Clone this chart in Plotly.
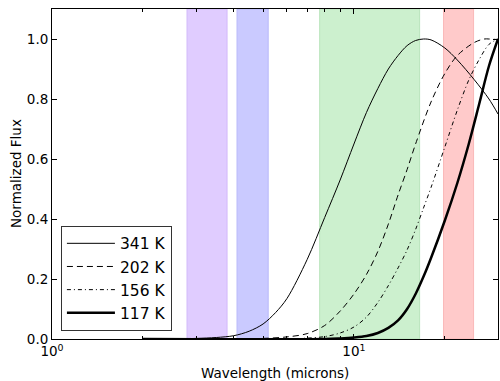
import plotly.graph_objects as go

# ---- data ----
wl_341 = [2, 2.5, 3, 3.5, 4, 4.5, 5, 5.5, 6, 7, 8, 9, 10, 11, 12, 13, 14, 15, 16, 17, 18, 20, 22, 25, 28, 30]
flux_341 = [0.0, 0.0005, 0.002, 0.005, 0.011, 0.026, 0.05, 0.088, 0.135, 0.265, 0.405, 0.53, 0.65, 0.755,
            0.835, 0.9, 0.945, 0.978, 0.995, 1.0, 0.997, 0.97, 0.93, 0.865, 0.8, 0.75]

wl_202 = [2, 4, 5, 6, 7, 8, 9, 10, 11, 12, 13, 14, 15, 16, 18, 20, 22, 25, 27, 28, 30]
flux_202 = [0.0, 0.0, 0.002, 0.007, 0.018, 0.045, 0.093, 0.15, 0.215, 0.292, 0.383, 0.48, 0.565, 0.65,
            0.79, 0.885, 0.945, 0.988, 1.0, 1.0, 0.998]

wl_156 = [2, 6, 7, 8, 9, 10, 11, 12, 13, 14, 15, 16, 17, 18, 20, 22, 24, 26, 28, 30]
flux_156 = [0.0, 0.0, 0.003, 0.008, 0.02, 0.04, 0.073, 0.122, 0.178, 0.237, 0.297, 0.365, 0.437, 0.505,
            0.64, 0.763, 0.863, 0.932, 0.982, 1.0]

wl_117 = [2, 8, 9, 10, 11, 12, 13, 14, 15, 16, 17, 18, 20, 22, 24, 26, 28, 30]
flux_117 = [0.0, 0.0, 0.002, 0.005, 0.01, 0.02, 0.037, 0.062, 0.1, 0.15, 0.208, 0.27, 0.395, 0.52,
            0.65, 0.784, 0.91, 1.0]

series_labels = ["341 K", "202 K", "156 K", "117 K"]

band_lo = [2.8, 4.1, 7.7, 19.8]
band_hi = [3.8, 5.2, 16.5, 24.9]
band_fill = ["rgba(224,204,255,1)", "rgba(202,202,255,1)", "rgba(204,240,206,1)", "rgba(255,202,202,1)"]
band_edge = ["rgba(210,185,250,1)", "rgba(185,185,250,1)", "rgba(185,228,188,1)", "rgba(250,185,185,1)"]

x_major = [1, 10]
x_major_text = ["10<sup>0</sup>", "10<sup>1</sup>"]
x_minor = [2, 3, 4, 5, 6, 7, 8, 9, 20, 30]
y_ticks = [0.0, 0.2, 0.4, 0.6, 0.8, 1.0]
Y_TOP = 1.1

fig = go.Figure()

for lo, hi, fc, ec in zip(band_lo, band_hi, band_fill, band_edge):
    fig.add_trace(go.Scatter(x=[lo, lo, hi, hi, lo], y=[0, Y_TOP, Y_TOP, 0, 0], mode="lines",
                             fill="toself", fillcolor=fc, line=dict(color=ec, width=1),
                             showlegend=False, hoverinfo="skip"))

styles = [
    dict(color="black", width=1, dash="solid"),
    dict(color="black", width=1, dash="6px,4px"),
    dict(color="black", width=1, dash="4px,3px,1px,3px"),
    dict(color="black", width=2.5, dash="solid"),
]
for (xs, ys), lab, st in zip([(wl_341, flux_341), (wl_202, flux_202), (wl_156, flux_156), (wl_117, flux_117)],
                             series_labels, styles):
    fig.add_trace(go.Scatter(x=xs, y=ys, mode="lines", name=lab,
                             line=dict(shape="spline", smoothing=0.9, **st)))

font = "DejaVu Sans"
fig.update_layout(
    width=500, height=381,
    margin=dict(l=52, r=2, t=9, b=42, autoexpand=False),
    paper_bgcolor="white", plot_bgcolor="white",
    font=dict(family=font, size=13.5, color="black"),
    legend=dict(x=0.02, y=0.025, xanchor="left", yanchor="bottom",
                bgcolor="white", bordercolor="#333", borderwidth=1,
                font=dict(size=15.5, family=font), tracegroupgap=0, itemwidth=48),
    xaxis=dict(type="log", range=[0, 1.4771], showgrid=False, zeroline=False, automargin=False,
               showline=True, linecolor="black", linewidth=1, mirror="allticks",
               ticks="inside", ticklen=5, tickcolor="black",
               tickvals=x_major, ticktext=x_major_text,
               minor=dict(tickvals=x_minor, ticks="inside", ticklen=3, tickcolor="black", showgrid=False)),
    yaxis=dict(range=[0, Y_TOP], showgrid=False, zeroline=False, automargin=False,
               showline=True, linecolor="black", linewidth=1, mirror="allticks",
               ticks="inside", ticklen=5, tickcolor="black",
               tickvals=y_ticks, tickformat=".1f"),
    annotations=[
        dict(text="Wavelength (microns)", xref="paper", yref="paper", x=0.5, y=0,
             xanchor="center", yanchor="middle", yshift=-34, showarrow=False,
             font=dict(size=13.5)),
        dict(text="Normalized Flux", xref="paper", yref="paper", x=0, y=0.5,
             xanchor="center", yanchor="middle", xshift=-36, textangle=-90, showarrow=False,
             font=dict(size=13.5)),
    ],
)

fig.write_html("out.html", config={"displayModeBar": False},
               post_script="document.body.style.margin='0';document.body.style.overflow='hidden';")
